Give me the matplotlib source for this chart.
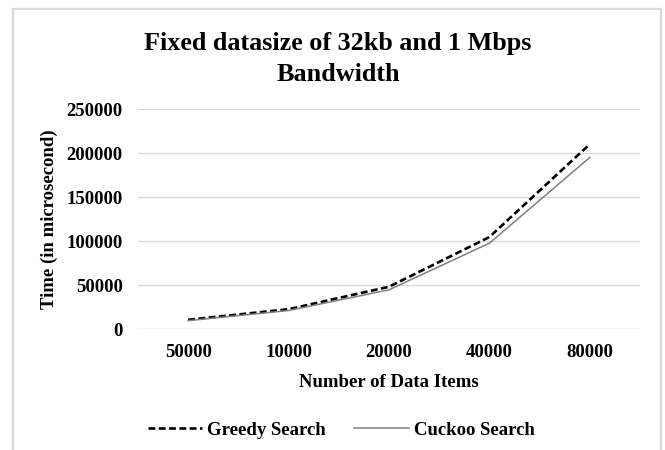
import matplotlib
matplotlib.use('Agg')
import matplotlib.pyplot as plt
from matplotlib.patches import Rectangle

# values
items = ['50000', '10000', '20000', '40000', '80000']
greedy = [10500, 22500, 48000, 104500, 210000]
cuckoo = [9500, 21000, 44500, 97500, 195000]
y_ticks = [0, 50000, 100000, 150000, 200000, 250000]

plt.rcParams['font.family'] = 'Liberation Serif'
plt.rcParams['font.weight'] = 'bold'

W, H = 665, 450
fs = 13.5
fig = plt.figure(figsize=(W / 100, H / 100), dpi=100)

# light grey chart-area frame (bottom edge runs off the picture)
fig.patches.append(Rectangle((13 / W, -0.05), (661 - 13) / W, (H - 9) / H + 0.05,
                             transform=fig.transFigure, fill=False,
                             edgecolor='#d9d9d9', linewidth=1.6))

ax = fig.add_axes([138 / W, (H - 329) / H, (640 - 138) / W, 220 / H])
x = range(len(items))
ax.plot(x, greedy, color='black', linewidth=1.9, linestyle=(0, (2.6, 1.3)),
        label='Greedy Search')
ax.plot(x, cuckoo, color='#808080', linewidth=1.1, label='Cuckoo Search')

ax.set_xlim(-0.5, len(items) - 0.5)
ax.set_ylim(0, 250000)
ax.set_yticks(y_ticks)
ax.set_xticks(list(x))
ax.set_xticklabels(items)
ax.tick_params(length=0, labelsize=fs, pad=11)
ax.tick_params(axis='y', pad=11)
ax.grid(axis='y', color='#d9d9d9', linewidth=1.0)
ax.set_axisbelow(True)
for s in ax.spines.values():
    s.set_visible(False)

ax.set_xlabel('Number of Data Items', fontsize=fs, fontweight='bold', labelpad=9)
fig.text(49 / W, 1 - 219 / H, 'Time (in microsecond)', rotation=90,
         ha='center', va='center', fontsize=fs, fontweight='bold')

fig.text(338 / W, 1 - 59 / H, 'Fixed datasize of 32kb and 1 Mbps\nBandwidth',
         ha='center', va='center', fontsize=18.8, fontweight='bold', linespacing=1.4)

fig.legend(loc='center', bbox_to_anchor=(341 / W, 1 - 430 / H), ncol=2, frameon=False,
           fontsize=fs, handlelength=2.9, handletextpad=0.25, columnspacing=1.55)

fig.savefig('out.png', dpi=100)
